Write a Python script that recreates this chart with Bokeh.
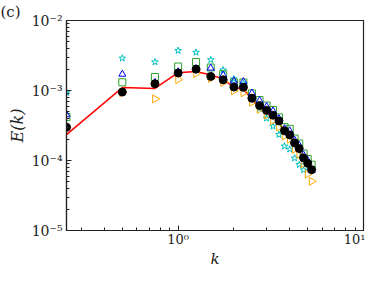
import math
from bokeh.plotting import figure
from bokeh.models import FixedTicker, Range1d, Title
from bokeh.embed import file_html
from bokeh.resources import INLINE

k = [0.25, 0.5, 0.75, 1.0, 1.25, 1.5, 1.75, 2.0, 2.25, 2.5, 2.75, 3.0, 3.25,
     3.5, 3.75, 4.0, 4.25, 4.5, 4.75, 5.0, 5.25]

E_ref = [2.34e-4, 1.10e-3, 1.07e-3, 1.80e-3, 1.87e-3, 1.67e-3, 1.46e-3, 1.10e-3,
         1.05e-3, 7.4e-4, 5.8e-4, 4.9e-4, 4.2e-4, 3.5e-4, 2.55e-4, 2.2e-4,
         1.7e-4, 1.4e-4, 1.03e-4, 8.6e-5, 7.0e-5]

E_black = [2.98e-4, 9.5e-4, 1.25e-3, 1.78e-3, 2.02e-3, 1.59e-3, 1.42e-3, 1.12e-3,
           1.11e-3, 7.76e-4, 6.1e-4, 5.2e-4, 4.44e-4, 3.68e-4, 2.66e-4, 2.32e-4,
           1.78e-4, 1.48e-4, 1.09e-4, 9.1e-5, 7.4e-5]

E_green = [4.18e-4, 1.31e-3, 1.56e-3, 2.2e-3, 2.55e-3, 2.13e-3, 1.71e-3, 1.30e-3,
           1.30e-3, 9.1e-4, 7.3e-4, 6.1e-4, 5.26e-4, 4.13e-4, 3.0e-4, 2.83e-4,
           2.06e-4, 1.75e-4, 1.26e-4, 1.05e-4, 8.7e-5]

E_blue = [4.5e-4, 1.71e-3, 1.3e-3, 1.85e-3, 2.05e-3, 2.09e-3, 1.66e-3, 1.37e-3,
          1.34e-3, 9.2e-4, 7.2e-4, 5.9e-4, 5.1e-4, 3.96e-4, 2.85e-4, 2.65e-4,
          1.95e-4, 1.65e-4, 1.2e-4, 1.0e-4, 7.2e-5]

k_star = [0.25, 0.5, 0.75, 1.0, 1.25, 1.5, 1.75, 2.0, 2.25, 2.5, 2.75, 3.0,
          3.25, 3.5, 3.75, 4.0, 4.25, 4.5, 4.75]
E_star = [9.3e-4, 2.89e-3, 2.55e-3, 3.72e-3, 3.5e-3, 2.74e-3, 1.96e-3, 1.46e-3,
          1.25e-3, 7.5e-4, 5.5e-4, 4.0e-4, 3.08e-4, 2.34e-4, 1.6e-4, 1.45e-4,
          1.08e-4, 8.7e-5, 7.3e-5]

E_orange = [3.0e-4, 9.3e-4, 7.6e-4, 1.43e-3, 1.75e-3, 1.49e-3, 1.31e-3, 9.9e-4,
            9.3e-4, 6.8e-4, 5.4e-4, 4.45e-4, 3.72e-4, 3.0e-4, 2.25e-4, 2.02e-4,
            1.45e-4, 1.22e-4, 9.0e-5, 6.4e-5, 5.05e-5]

x_ticks = [1, 10]
x_labels = ["10⁰", "10¹"]
y_ticks = [1e-5, 1e-4, 1e-3, 1e-2]
y_labels = ["10⁻⁵", "10⁻⁴", "10⁻³", "10⁻²"]

FONT = "DejaVu Serif"
W, H = 365, 270

p = figure(width=W, height=H, x_axis_type="log", y_axis_type="log",
           x_range=Range1d(0.25, 10), y_range=Range1d(1e-5, 1e-2),
           output_backend="svg", toolbar_location=None,
           min_border_left=66, min_border_top=0, min_border_right=2,
           min_border_bottom=34)
p.title = Title(text="(c)", align="left", offset=-66, standoff=0,
                text_font=FONT, text_font_size="15px", text_font_style="normal",
                text_color="#222222")
p.xgrid.visible = False
p.ygrid.visible = False
p.outline_line_color = "#222222"
p.outline_line_width = 1.2

x_minor = [m * 10 ** e for e in (-1, 0) for m in range(2, 10)]
y_minor = [m * 10 ** e for e in (-5, -4, -3) for m in range(2, 10)]
p.xaxis.ticker = FixedTicker(ticks=x_ticks, minor_ticks=x_minor)
p.yaxis.ticker = FixedTicker(ticks=y_ticks, minor_ticks=y_minor)
p.xaxis.major_label_overrides = {t: l for t, l in zip(x_ticks, x_labels)}
p.yaxis.major_label_overrides = {t: l for t, l in zip(y_ticks, y_labels)}

for ax in (p.xaxis[0], p.yaxis[0]):
    ax.major_tick_in = 5
    ax.major_tick_out = 0
    ax.minor_tick_in = 3
    ax.minor_tick_out = 0
    ax.axis_line_color = "#222222"
    ax.axis_line_width = 1.2
    ax.major_tick_line_color = "#222222"
    ax.minor_tick_line_color = "#222222"
    ax.major_label_text_font = FONT
    ax.major_label_text_font_size = "14px"
    ax.major_label_text_color = "#222222"
    ax.axis_label_text_font = FONT
    ax.axis_label_text_font_style = "italic"
    ax.axis_label_text_font_size = "16px"
    ax.axis_label_text_color = "#222222"

p.xaxis.major_label_text_font_size = "13px"
p.xaxis.axis_label_text_font_size = "15px"
p.xaxis.axis_label = "k"
p.yaxis.axis_label = "E(k)"
p.xaxis.major_label_standoff = 1
p.yaxis.major_label_standoff = 4
p.xaxis.axis_label_standoff = 0
p.yaxis.axis_label_standoff = 2

p.line(k, E_ref, line_color="red", line_width=1.5)
p.scatter(k_star, E_star, marker="star", size=7, fill_color=None,
          line_color="#00bfbf", line_width=1)
p.scatter(k, E_orange, marker="triangle", angle=-math.pi / 2, size=8,
          fill_color=None, line_color="orange", line_width=1)
p.scatter(k, E_green, marker="square", size=7, fill_color=None,
          line_color="#2ca02c", line_width=1)
p.scatter(k, E_blue, marker="triangle", size=7, fill_color=None,
          line_color="blue", line_width=1)
p.scatter(k, E_black, marker="circle", size=8, fill_color="black",
          line_color="black")

open("out.html", "w").write(file_html(p, INLINE))
